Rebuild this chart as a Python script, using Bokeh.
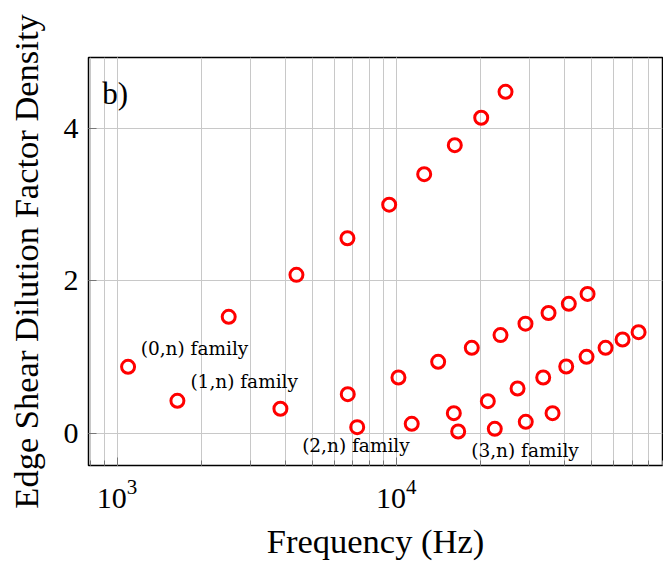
from bokeh.plotting import figure
from bokeh.models import FixedTicker, Label, ColumnDataSource, Range1d
from bokeh.embed import file_html
from bokeh.resources import INLINE
from bokeh.core.properties import value

# (m,n) family data: frequency (Hz) and edge shear dilution factor density
f0 = [1095, 2512, 4392, 6690, 9440, 12600, 16220, 20170, 24650]
d0 = [0.874, 1.53, 2.08, 2.56, 3.00, 3.40, 3.78, 4.14, 4.48]
f1 = [1645, 3848, 6708, 10190, 14140, 18660, 23650, 29060, 35150, 41550, 48500]
d1 = [0.428, 0.324, 0.515, 0.734, 0.94, 1.123, 1.29, 1.44, 1.58, 1.70, 1.83]
f2 = [7250, 11370, 16090, 21300, 27220, 33640, 40670, 48100, 56270, 64730, 73880]
d2 = [0.083, 0.127, 0.266, 0.423, 0.59, 0.734, 0.878, 1.005, 1.123, 1.232, 1.328]
f3 = [16680, 22560, 29130, 36330]
d3 = [0.026, 0.061, 0.153, 0.266]

label_text = ["(0,n) family", "(1,n) family", "(2,n) family", "(3,n) family"]
label_f = [1215, 1831, 4603, 18570]
label_d = [1.12, 0.68, -0.157, -0.223]

y_ticks = [0, 2, 4]
x_range = (790, 90000)
y_range = (-0.42, 4.93)

SERIF = "Liberation Serif"

p = figure(width=663, height=567, x_axis_type="log",
           x_range=Range1d(*x_range), y_range=Range1d(*y_range),
           output_backend="svg", toolbar_location=None,
           min_border_left=88, min_border_right=1, min_border_top=57, min_border_bottom=102,
           x_axis_label="Frequency (Hz)",
           y_axis_label="Edge Shear Dilution Factor Density")

p.background_fill_color = "white"
p.border_fill_color = "white"
p.outline_line_color = "black"
p.outline_line_width = 1.5

# grid
p.xgrid.grid_line_color = "#c8c8c8"
p.xgrid.grid_line_width = 1
p.xgrid.minor_grid_line_color = "#c8c8c8"
p.xgrid.minor_grid_line_width = 1
p.ygrid.grid_line_color = "#c8c8c8"
p.ygrid.grid_line_width = 1
p.yaxis.ticker = FixedTicker(ticks=y_ticks)

for ax in p.xaxis + p.yaxis:
    ax.axis_line_color = None
    ax.major_tick_out = 0
    ax.major_tick_in = 8
    ax.minor_tick_out = 0
    ax.minor_tick_in = 5
    ax.major_tick_line_color = "#777777"
    ax.minor_tick_line_color = "#777777"
    ax.axis_label_text_font = SERIF
    ax.axis_label_text_font_style = "normal"
    ax.axis_label_text_font_size = "34.5px"
    ax.axis_label_text_color = "black"
    ax.major_label_text_font = SERIF
    ax.major_label_text_font_size = "30px"
    ax.major_label_text_color = "black"

p.yaxis.minor_tick_in = 0
p.yaxis.major_label_standoff = 10
p.yaxis.axis_label_standoff = 16
p.xaxis.major_label_standoff = 14
p.xaxis.axis_label_standoff = 11

for fx, dy in [(f0, d0), (f1, d1), (f2, d2), (f3, d3)]:
    src = ColumnDataSource(dict(f=fx, d=dy))
    p.scatter("f", "d", source=src, marker="circle", size=13, fill_color=None,
              line_color="#ff0000", line_width=3)

lsrc = ColumnDataSource(dict(f=label_f, d=label_d, t=label_text))
p.text("f", "d", text="t", source=lsrc, text_font=value("DejaVu Serif"),
       text_font_size="18.5px", text_align="left", text_baseline="middle", text_color="black")

p.add_layout(Label(x=884, y=4.69, text="b)", text_font=SERIF, text_font_size="31px",
                   text_baseline="top", text_align="left", text_color="black"))

open("out.html", "w").write(file_html(p, INLINE))
